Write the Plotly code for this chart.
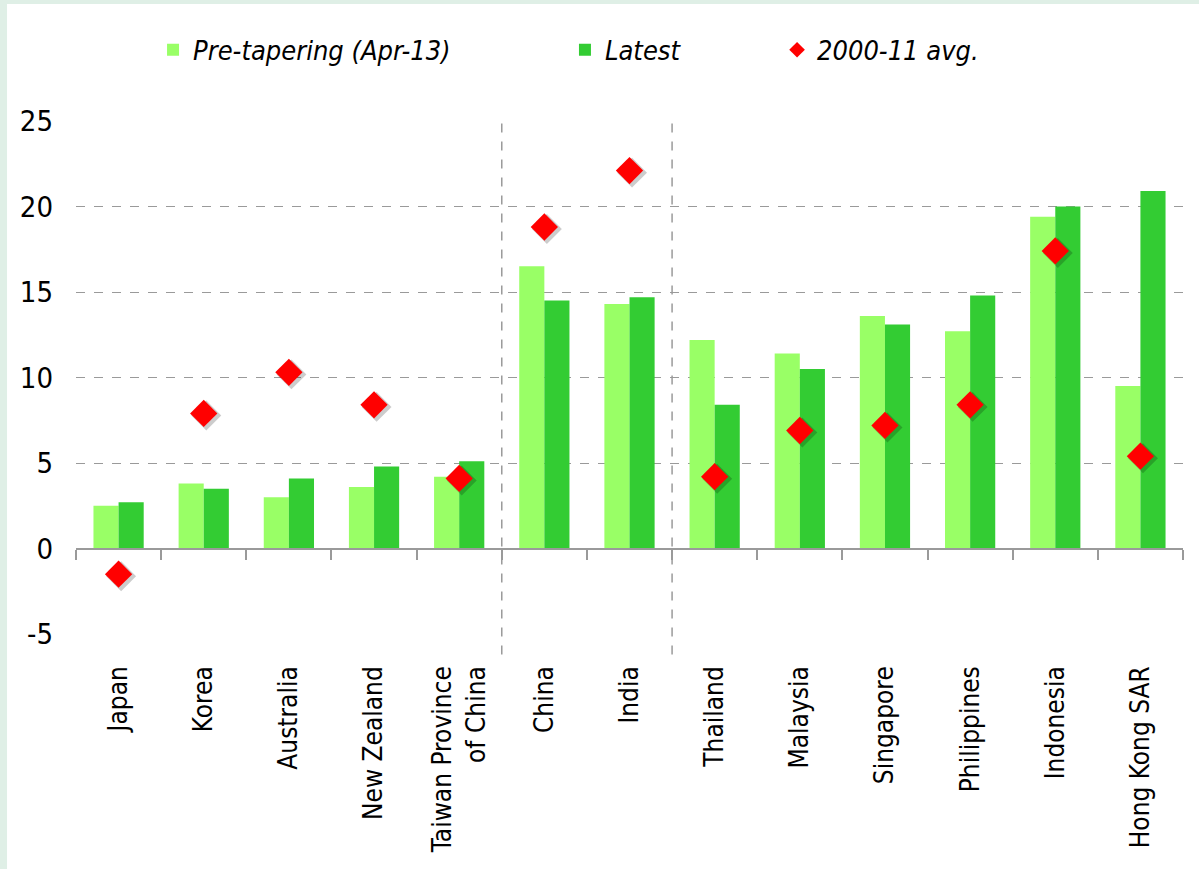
import plotly.graph_objects as go

countries = ["Japan", "Korea", "Australia", "New Zealand", "Taiwan Province<br>of China",
             "China", "India", "Thailand", "Malaysia", "Singapore", "Philippines",
             "Indonesia", "Hong Kong SAR"]
pre_tapering = [2.5, 3.8, 3.0, 3.6, 4.2, 16.5, 14.3, 12.2, 11.4, 13.6, 12.7, 19.4, 9.5]
latest = [2.7, 3.5, 4.1, 4.8, 5.1, 14.5, 14.7, 8.4, 10.5, 13.1, 14.8, 20.0, 20.9]
avg_2000_11 = [-1.5, 7.9, 10.3, 8.4, 4.1, 18.8, 22.1, 4.2, 6.9, 7.2, 8.4, 17.4, 5.4]
y_ticks = [-5, 0, 5, 10, 15, 20, 25]
y_tick_labels = ["-5", "0", "5", "10", "15", "20", "25"]
separators_after = [4, 6]  # index of last category before each dashed divider

FONT = "DejaVu Sans Condensed, Liberation Sans Narrow, Arial Narrow, sans-serif"
LIGHT = "#99ff66"
DARK = "#33cc33"
RED = "#ff0000"
GRID = "#9a9a9a"

fig = go.Figure()
fig.add_trace(go.Bar(x=countries, y=pre_tapering, name="Pre-tapering (Apr-13)",
                     marker=dict(color=LIGHT, line=dict(width=0)), legend="legend"))
fig.add_trace(go.Bar(x=countries, y=latest, name="Latest",
                     marker=dict(color=DARK, line=dict(width=0)), legend="legend2"))
# invisible trace to carry the zero axis with boundary ticks
fig.add_trace(go.Scatter(x=countries, y=avg_2000_11, mode="markers", showlegend=False,
                         xaxis="x2", hoverinfo="skip", marker=dict(opacity=0)))
# soft shadow of diamonds (on slightly shifted overlay axes)
fig.add_trace(go.Scatter(x=countries, y=avg_2000_11, mode="markers", showlegend=False,
                         xaxis="x3", yaxis="y2", hoverinfo="skip",
                         marker=dict(symbol="diamond", size=23, color="rgba(0,0,0,0.2)",
                                     line=dict(width=0))))
# red diamonds on a top overlay (same ranges as the main axes)
fig.add_trace(go.Scatter(x=countries, y=avg_2000_11, mode="markers", name="2000-11 avg.",
                         xaxis="x4", yaxis="y3",
                         marker=dict(symbol="diamond", size=21, color=RED, line=dict(width=0)),
                         legend="legend3"))

n = len(countries)
xr = [-0.5, n - 0.5]
yr = [y_ticks[0], y_ticks[-1]]
shift_x = 0.03
shift_y = 0.12

shapes = [
    # white card inside the light border
    dict(type="rect", xref="paper", yref="paper", x0=-0.0623, x1=1.03, y0=-0.6, y1=1.228,
         fillcolor="white", line=dict(width=0), layer="below"),
]
for i in separators_after:
    shapes.append(dict(type="line", xref="x", yref="paper", x0=i + 0.5, x1=i + 0.5,
                       y0=-0.04, y1=1, line=dict(color=GRID, width=1.5, dash="dash")))

legend_common = dict(orientation="h", yanchor="middle", y=1.138, xanchor="left",
                     font=dict(family=FONT, size=27, color="black", style="italic"),
                     bgcolor="rgba(0,0,0,0)", itemsizing="constant")

cat_axis = dict(type="category", categoryorder="array", categoryarray=countries)

fig.update_layout(
    width=1199, height=869,
    margin=dict(l=76, r=16, t=121, b=235, autoexpand=False),
    paper_bgcolor="#dfefe6",
    plot_bgcolor="white",
    barmode="group", bargap=0.41, bargroupgap=0,
    font=dict(family=FONT, size=26, color="black"),
    showlegend=True,
    legend=dict(x=0.0696, **legend_common),
    legend2=dict(x=0.4417, **legend_common),
    legend3=dict(x=0.6333, **legend_common),
    xaxis=dict(range=xr, showline=False, ticks="", tickangle=-90,
               ticklabelstandoff=26, showgrid=False, zeroline=False, automargin=False,
               tickfont=dict(family=FONT, size=26, color="black"), **cat_axis),
    xaxis2=dict(range=xr, overlaying="x", anchor="free", position=5 / 30,
                showline=True, linecolor=GRID, linewidth=2, ticks="outside",
                tickson="boundaries", ticklen=10, tickwidth=1.5, tickcolor=GRID,
                showticklabels=False, showgrid=False, zeroline=False, **cat_axis),
    xaxis3=dict(range=[xr[0] - shift_x, xr[1] - shift_x], overlaying="x",
                visible=False, **cat_axis),
    xaxis4=dict(range=xr, overlaying="x", visible=False, **cat_axis),
    yaxis=dict(range=yr, tickvals=y_ticks, ticktext=y_tick_labels, showgrid=True,
               gridcolor=GRID, griddash="dash", gridwidth=1, zeroline=False,
               showline=False, ticks="", ticklabelstandoff=22, automargin=False,
               tickfont=dict(family=FONT, size=29, color="black")),
    yaxis2=dict(range=[yr[0] + shift_y, yr[1] + shift_y], overlaying="y",
                visible=False),
    yaxis3=dict(range=yr, overlaying="y", visible=False),
    shapes=shapes,
)

fig.write_html("out.html",
               config={"displayModeBar": False},
               post_script="document.body.style.margin='0px';"
                           "document.body.style.overflow='hidden';")
